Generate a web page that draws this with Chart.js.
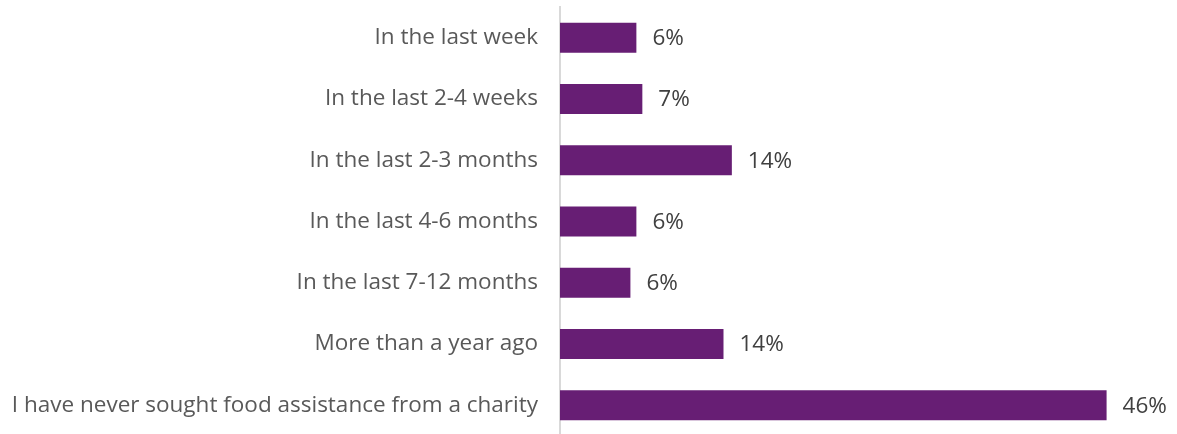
<!DOCTYPE html>
<html>
<head>
<meta charset="utf-8">
<script src="https://cdn.jsdelivr.net/npm/chart.js@4"></script>
<style>
    html, body { margin: 0; padding: 0; background: #ffffff; overflow: hidden; }
</style>
</head>
<body>
<canvas id="chart" width="1177" height="436"></canvas>
<script>
// Ne zaman yardım alındı - kategoriler ve yüzdeler
const categories = [
    'In the last week',
    'In the last 2-4 weeks',
    'In the last 2-3 months',
    'In the last 4-6 months',
    'In the last 7-12 months',
    'More than a year ago',
    'I have never sought food assistance from a charity'
];
const shares = [6.4, 6.9, 14.4, 6.4, 5.9, 13.7, 45.8];

const barColor = '#671e74';
const fontFamily = '"Open Sans", Lato, sans-serif';
const fontSize = 22.5;

// Çubuk sonuna yüzde etiketi yaz
const valueLabels = {
    id: 'valueLabels',
    afterDatasetsDraw(chart) {
        const ctx = chart.ctx;
        const meta = chart.getDatasetMeta(0);
        ctx.save();
        ctx.font = fontSize + 'px ' + fontFamily;
        ctx.fillStyle = '#404040';
        ctx.textAlign = 'left';
        ctx.textBaseline = 'middle';
        meta.data.forEach((bar, i) => {
            ctx.fillText(Math.round(shares[i]) + '%', bar.x + 16, bar.y + 1);
        });
        ctx.restore();
    }
};

new Chart(document.getElementById('chart'), {
    type: 'bar',
    data: {
        labels: categories,
        datasets: [{
            data: shares,
            backgroundColor: barColor,
            borderWidth: 0,
            categoryPercentage: 1,
            barPercentage: 0.49
        }]
    },
    options: {
        indexAxis: 'y',
        responsive: false,
        animation: false,
        layout: { padding: { top: 7, right: 0, bottom: 0, left: 0 } },
        plugins: {
            legend: { display: false },
            tooltip: { enabled: false }
        },
        scales: {
            x: {
                display: false,
                min: 0,
                max: 51.7
            },
            y: {
                // eksen genişliği sabit, üst/alt boşluk yok
                afterFit(scale) {
                    scale.width = 560;
                    scale.paddingTop = 0;
                    scale.paddingBottom = 0;
                },
                grid: { display: false, drawTicks: false },
                border: { display: true, color: '#d9d9d9', width: 2 },
                ticks: {
                    color: '#595959',
                    padding: 22,
                    font: { family: fontFamily, size: fontSize }
                }
            }
        }
    },
    plugins: [valueLabels]
});
</script>
</body>
</html>
